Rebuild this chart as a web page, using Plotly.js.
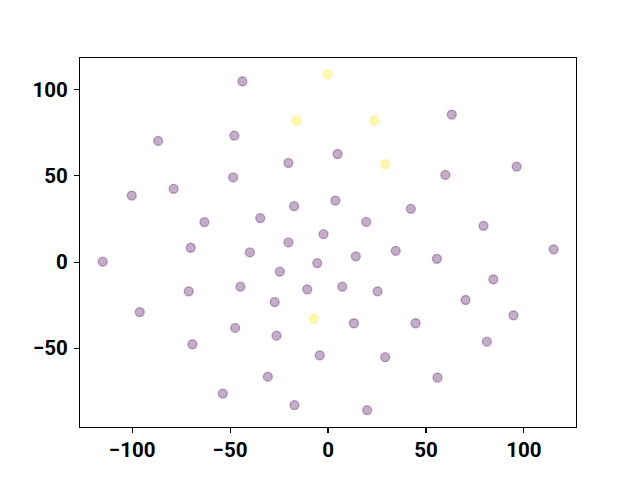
<!DOCTYPE html>
<html>
<head>
<meta charset="utf-8">
<script src="https://cdn.plot.ly/plotly-3.0.1.min.js"></script>
<style>html,body{margin:0;padding:0;background:#fff;}#plot{width:640px;height:480px;}</style>
</head>
<body>
<div id="plot"></div>
<script>
// Class 0 (purple) points
const purpleX = [-43.7,-86.7,-47.8,-20.2,-48.4,-100.2,-78.8,-17.3,-63.1,-34.6,-2.3,-20.2,
  63.2,4.9,59.9,96.3,3.8,42.3,19.5,79.4,
  -70.1,-39.9,-115.0,-5.5,-24.6,-71.1,-44.7,-10.6,-27.2,-96.1,-47.4,-26.3,-69.2,-4.2,-30.7,-53.7,-17.1,
  14.2,34.6,55.6,115.2,84.4,7.3,25.3,70.2,94.7,13.2,44.7,81.1,29.2,55.9,20.0];
const purpleY = [104.9,70.3,73.4,57.5,49.1,38.6,42.5,32.4,23.2,25.5,16.2,11.4,
  85.6,62.7,50.6,55.4,35.7,30.9,23.3,21.0,
  8.3,5.6,0.2,-0.6,-5.6,-17.0,-14.3,-15.8,-23.2,-29.0,-38.2,-42.7,-47.7,-54.1,-66.5,-76.3,-83.0,
  3.3,6.5,1.9,7.4,-10.0,-14.3,-17.0,-22.0,-30.9,-35.5,-35.5,-46.2,-55.2,-67.0,-85.9];
// Class 1 (yellow) points
const yellowX = [-0.2,-16.2,23.6,29.2,-7.3];
const yellowY = [108.9,82.1,82.1,56.8,-32.9];

const xTicks = [-100,-50,0,50,100];
const yTicks = [-50,0,50,100];

const purple = 'rgba(68,1,84,0.32)';
const yellow = 'rgba(253,231,37,0.35)';

const traces = [
  {x: purpleX, y: purpleY, type: 'scatter', mode: 'markers',
   marker: {size: 9, color: purple, line: {color: purple, width: 1.3}}, hoverinfo: 'none'},
  {x: yellowX, y: yellowY, type: 'scatter', mode: 'markers',
   marker: {size: 9, color: yellow, line: {color: yellow, width: 1.3}}, hoverinfo: 'none'}
];

const axisCommon = {
  showgrid: false, zeroline: false, showline: true, mirror: true,
  linecolor: '#000', linewidth: 1.1, ticks: 'outside', ticklen: 5, tickwidth: 1.1,
  tickcolor: '#000', tickmode: 'array',
  tickfont: {family: 'Roboto', size: 20.5, color: '#000', weight: 'bold'}
};

const layout = {
  width: 640, height: 480,
  margin: {l: 80, r: 64, t: 58, b: 53, pad: 0},
  paper_bgcolor: '#fff', plot_bgcolor: '#fff',
  showlegend: false,
  xaxis: Object.assign({}, axisCommon, {range: [-126.6, 126.6], tickvals: xTicks, ticklabelstandoff: -1}),
  yaxis: Object.assign({}, axisCommon, {range: [-95.7, 118.4], tickvals: yTicks, ticklabelstandoff: 2})
};

Plotly.newPlot('plot', traces, layout, {staticPlot: true, displayModeBar: false});
</script>
</body>
</html>
